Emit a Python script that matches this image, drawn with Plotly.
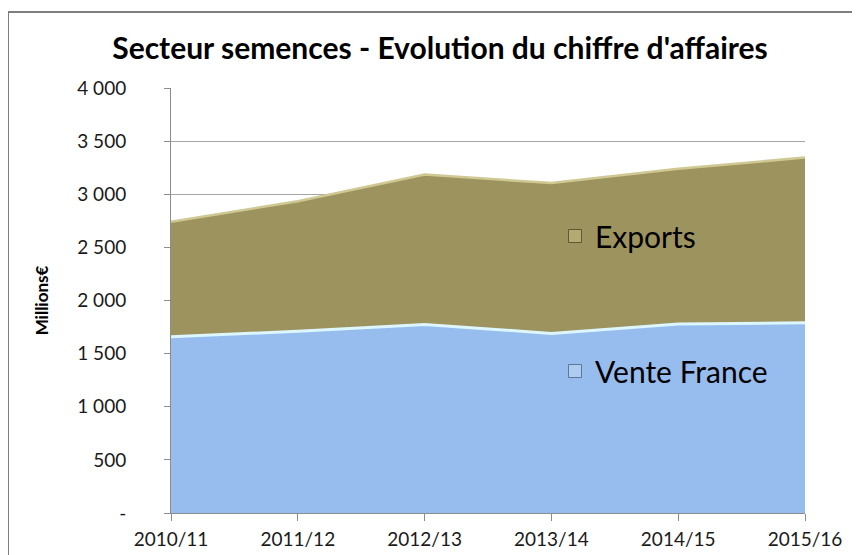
import plotly.graph_objects as go

categories = ["2010/11", "2011/12", "2012/13", "2013/14", "2014/15", "2015/16"]
vente_france = [1660, 1710, 1775, 1690, 1780, 1790]
exports = [1080, 1225, 1410, 1415, 1460, 1555]
y_tickvals = [0, 500, 1000, 1500, 2000, 2500, 3000, 3500, 4000]
y_ticktext = ["-", "500", "1 000", "1 500", "2 000", "2 500", "3 000", "3 500", "4 000"]

x = list(range(len(categories)))
FONT = "Lato"
OFF = 8  # page body margin

FR_FILL, FR_LINE = "#96BDEE", "#DDF6FF"
EX_FILL, EX_LINE = "#9D935F", "#D0C892"

fig = go.Figure()
fig.add_trace(go.Scatter(
    x=x, y=vente_france, name="Vente France", stackgroup="s", mode="lines",
    line=dict(color=FR_LINE, width=3), fillcolor=FR_FILL, showlegend=False,
))
fig.add_trace(go.Scatter(
    x=x, y=exports, name="Exports", stackgroup="s", mode="lines",
    line=dict(color=EX_LINE, width=2.5), fillcolor=EX_FILL, showlegend=False,
))
# legend markers
fig.add_trace(go.Scatter(
    x=[None], y=[None], name="Exports", mode="markers", legend="legend",
    marker=dict(symbol="square", size=13, color="#B3A972", line=dict(color="#5E5736", width=1)),
))
fig.add_trace(go.Scatter(
    x=[None], y=[None], name="Vente France", mode="markers", legend="legend2",
    marker=dict(symbol="square", size=13, color="#AECCF0", line=dict(color="#5E7898", width=1)),
))

L, R, T, B = 171 - OFF, 805 - OFF, 88 - OFF, 513 - OFF
W, H = 860 - OFF, 555 - OFF
pw, ph = R - L, B - T

def px(xv):
    return (xv - OFF - L) / pw

def py(yv):
    return (B - (yv - OFF)) / ph

fig.update_layout(
    width=W, height=H, showlegend=True,
    margin=dict(l=L, r=W - R, t=T, b=H - B, autoexpand=False),
    paper_bgcolor="white", plot_bgcolor="white",
    title=dict(text="<b>Secteur semences - Evolution du chiffre d'affaires</b>",
               x=(440 - OFF) / W, xanchor="center", y=1 - (48 - OFF) / H, yanchor="middle",
               font=dict(family=FONT, size=30, color="black")),
    font=dict(family=FONT, color="black"),
    xaxis=dict(tickmode="array", tickvals=x, ticktext=categories, range=[0, 5],
               automargin=False,
               showgrid=False, showline=True, linecolor="#8C8C8C", linewidth=1,
               ticks="outside", ticklen=7, tickcolor="#8C8C8C", ticklabelstandoff=2,
               tickfont=dict(family=FONT, size=19, color="#1a1a1a"), zeroline=False),
    yaxis=dict(tickmode="array", tickvals=y_tickvals, ticktext=y_ticktext, range=[0, 4000],
               automargin=False,
               showgrid=True, gridcolor="#A6A6A6", gridwidth=1,
               showline=True, linecolor="#8C8C8C", linewidth=1,
               ticks="outside", ticklen=6, tickcolor="#8C8C8C", ticklabelstandoff=34,
               tickfont=dict(family=FONT, size=19, color="#1a1a1a"), zeroline=False,
               title=dict(text="<b>Millions€</b>", font=dict(family=FONT, size=17, color="black"),
                          standoff=24)),
    legend=dict(x=px(555), y=py(236), xanchor="left", yanchor="middle",
                bgcolor="rgba(0,0,0,0)", font=dict(family=FONT, size=30, color="black"),
                itemwidth=30),
    legend2=dict(x=px(555), y=py(371), xanchor="left", yanchor="middle",
                 bgcolor="rgba(0,0,0,0)", font=dict(family=FONT, size=30, color="black"),
                 itemwidth=30),
)

fig.add_shape(type="rect", xref="paper", yref="paper",
              x0=px(8), x1=px(880), y0=py(580), y1=py(12),
              line=dict(color="#7F7F7F", width=2), fillcolor="rgba(0,0,0,0)", layer="above")

fig.write_html("out.html")
